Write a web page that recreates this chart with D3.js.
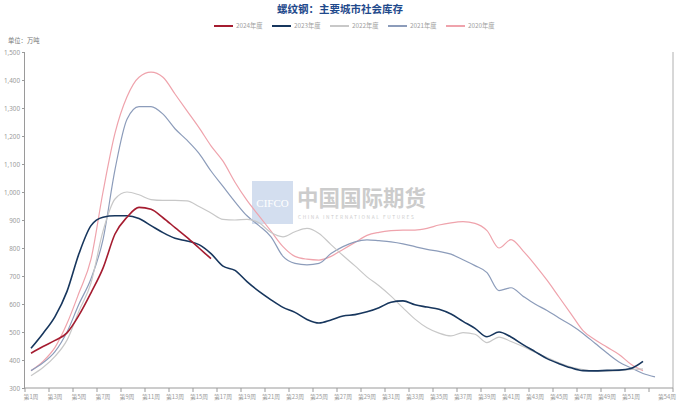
<!DOCTYPE html>
<html><head><meta charset="utf-8">
<script src="https://cdn.jsdelivr.net/npm/d3@7"></script>
<style>html,body{margin:0;padding:0;background:#fff;}svg{display:block;font-family:"Noto Sans CJK SC","Noto Sans",sans-serif;}</style>
</head><body>
<svg id="c" width="680" height="401"></svg>
<script>
const title = "螺纹钢：主要城市社会库存";
const unitLabel = "单位：万吨";
const seriesNames = ["2024年度","2023年度","2022年度","2021年度","2020年度"];
const seriesColors = ["#A51C30","#17365D","#C8C8C8","#8C9CBA","#EFA3AC"];
const seriesWidths = [1.6,1.6,1.2,1.2,1.2];
const weeks = d3.range(1,55).map(w => "第" + w + "周");
const yTicks = [300,400,500,600,700,800,900,1000,1100,1200,1300,1400,1500];

const y2024 = [424,448,470,497,560,640,728,850,910,945,938,908,873,838,800,762];
const y2023 = [442,495,555,645,780,880,910,915,915,905,880,855,835,825,812,780,735,720,680,645,615,588,570,545,532,543,557,562,572,587,606,611,597,589,581,564,538,513,483,500,482,455,430,405,387,372,362,361,363,364,370,395];
const y2022 = [344,373,413,471,575,675,860,975,1000,990,973,970,970,968,948,925,902,900,902,890,855,840,858,870,852,812,773,736,697,665,628,586,546,515,496,486,498,492,462,482,466,448,428,409,390,375,366,361,360,362,366,368];
const y2021 = [362,390,430,500,600,690,830,1080,1260,1305,1305,1278,1226,1185,1138,1075,1020,965,915,880,840,770,745,740,745,780,805,822,829,826,822,815,805,795,788,778,758,737,712,648,658,628,600,577,550,525,495,460,425,393,372,352,340];
const y2020 = [362,395,445,530,640,760,1000,1210,1340,1410,1428,1410,1350,1290,1230,1165,1110,1035,970,915,860,805,770,760,757,770,795,820,845,856,862,864,864,870,882,890,894,888,862,800,830,790,740,685,625,565,505,472,446,420,385,362];
const seriesData = [y2024,y2023,y2022,y2021,y2020];

const svg = d3.select("#c");
const L = 25, R = 673, T = 52, B = 388;
const x = d3.scaleBand().domain(weeks).range([L,R]).paddingInner(0).paddingOuter(0);
const y = d3.scaleLinear().domain([300,1500]).range([B,T]);
const grey = "#9a9a9a";

// watermark
const wm = svg.append("g").attr("opacity",0.5);
wm.append("rect").attr("x",252).attr("y",181).attr("width",41).attr("height",43).attr("fill","#A9BFE0");
wm.append("text").attr("x",272.5).attr("y",207).attr("text-anchor","middle").attr("font-size",11).attr("fill","#fff").attr("font-family","Liberation Serif,serif").text("CIFCO");
wm.append("text").attr("x",297).attr("y",206).attr("font-size",21.5).attr("font-weight","bold").attr("fill","#9a9a9a").text("中国国际期货");
wm.append("text").attr("x",298).attr("y",219).attr("font-size",4.8).attr("fill","#9a9a9a").attr("letter-spacing","1.6").text("CHINA INTERNATIONAL FUTURES");

// title
svg.append("text").attr("x",340).attr("y",13).attr("text-anchor","middle").attr("font-size",10.5).attr("font-weight","bold").attr("fill","#1F4A8C").text(title);

// legend
const lg = svg.append("g");
seriesNames.forEach((n,i) => {
  const lx = 214 + i*58;
  lg.append("line").attr("x1",lx).attr("x2",lx+19).attr("y1",26).attr("y2",26).attr("stroke",seriesColors[i]).attr("stroke-width",2);
  lg.append("text").attr("x",lx+22).attr("y",28.2).attr("font-size",6.3).attr("fill","#a0a0a0").text(n);
});

// unit
svg.append("text").attr("x",8).attr("y",43).attr("font-size",6.3).attr("fill","#777").text(unitLabel);

// y axis
const yAxis = svg.append("g").attr("transform",`translate(${L},0)`)
  .call(d3.axisLeft(y).tickValues(yTicks).tickSize(3).tickPadding(2).tickFormat(d3.format(",")));
yAxis.selectAll("path,line").attr("stroke",grey);
yAxis.selectAll("text").attr("font-size",6.3).attr("fill","#9a9a9a").attr("font-family","Noto Sans,sans-serif");
yAxis.select(".domain").attr("d",`M-0.5,${B}V${T}`);

// right axis line
svg.append("line").attr("x1",R).attr("x2",R).attr("y1",T).attr("y2",B).attr("stroke","#b0b0b0");

// x axis
const xg = svg.append("g").attr("transform",`translate(0,${B})`);
xg.append("line").attr("x1",L).attr("x2",R).attr("y1",0).attr("y2",0).attr("stroke",grey);
const tickWeeks = weeks.filter((w,i) => i%2===0);
xg.selectAll("line.t").data(tickWeeks.concat(["end"])).enter().append("line").attr("class","t")
  .attr("x1",d => d==="end"?R:x(d)).attr("x2",d => d==="end"?R:x(d)).attr("y1",0).attr("y2",4).attr("stroke",grey);
const labelWeeks = weeks.filter((w,i) => (i%2===0 && i<52) || i===53);
xg.selectAll("text").data(labelWeeks).enter().append("text")
  .attr("x",d => x(d)+x.bandwidth()/2).attr("y",10.5).attr("text-anchor","middle")
  .attr("font-size",5.8).attr("fill","#9a9a9a").text(d => d);

// lines
const line = d3.line().x((d,i) => x(weeks[i]) + x.bandwidth()/2).y(d => y(d)).curve(d3.curveMonotoneX);
const order = [4,3,2,1,0];
order.forEach(i => {
  svg.append("path").datum(seriesData[i]).attr("d",line).attr("fill","none")
    .attr("stroke",seriesColors[i]).attr("stroke-width",seriesWidths[i]).attr("stroke-linejoin","round");
});
</script>
</body></html>
